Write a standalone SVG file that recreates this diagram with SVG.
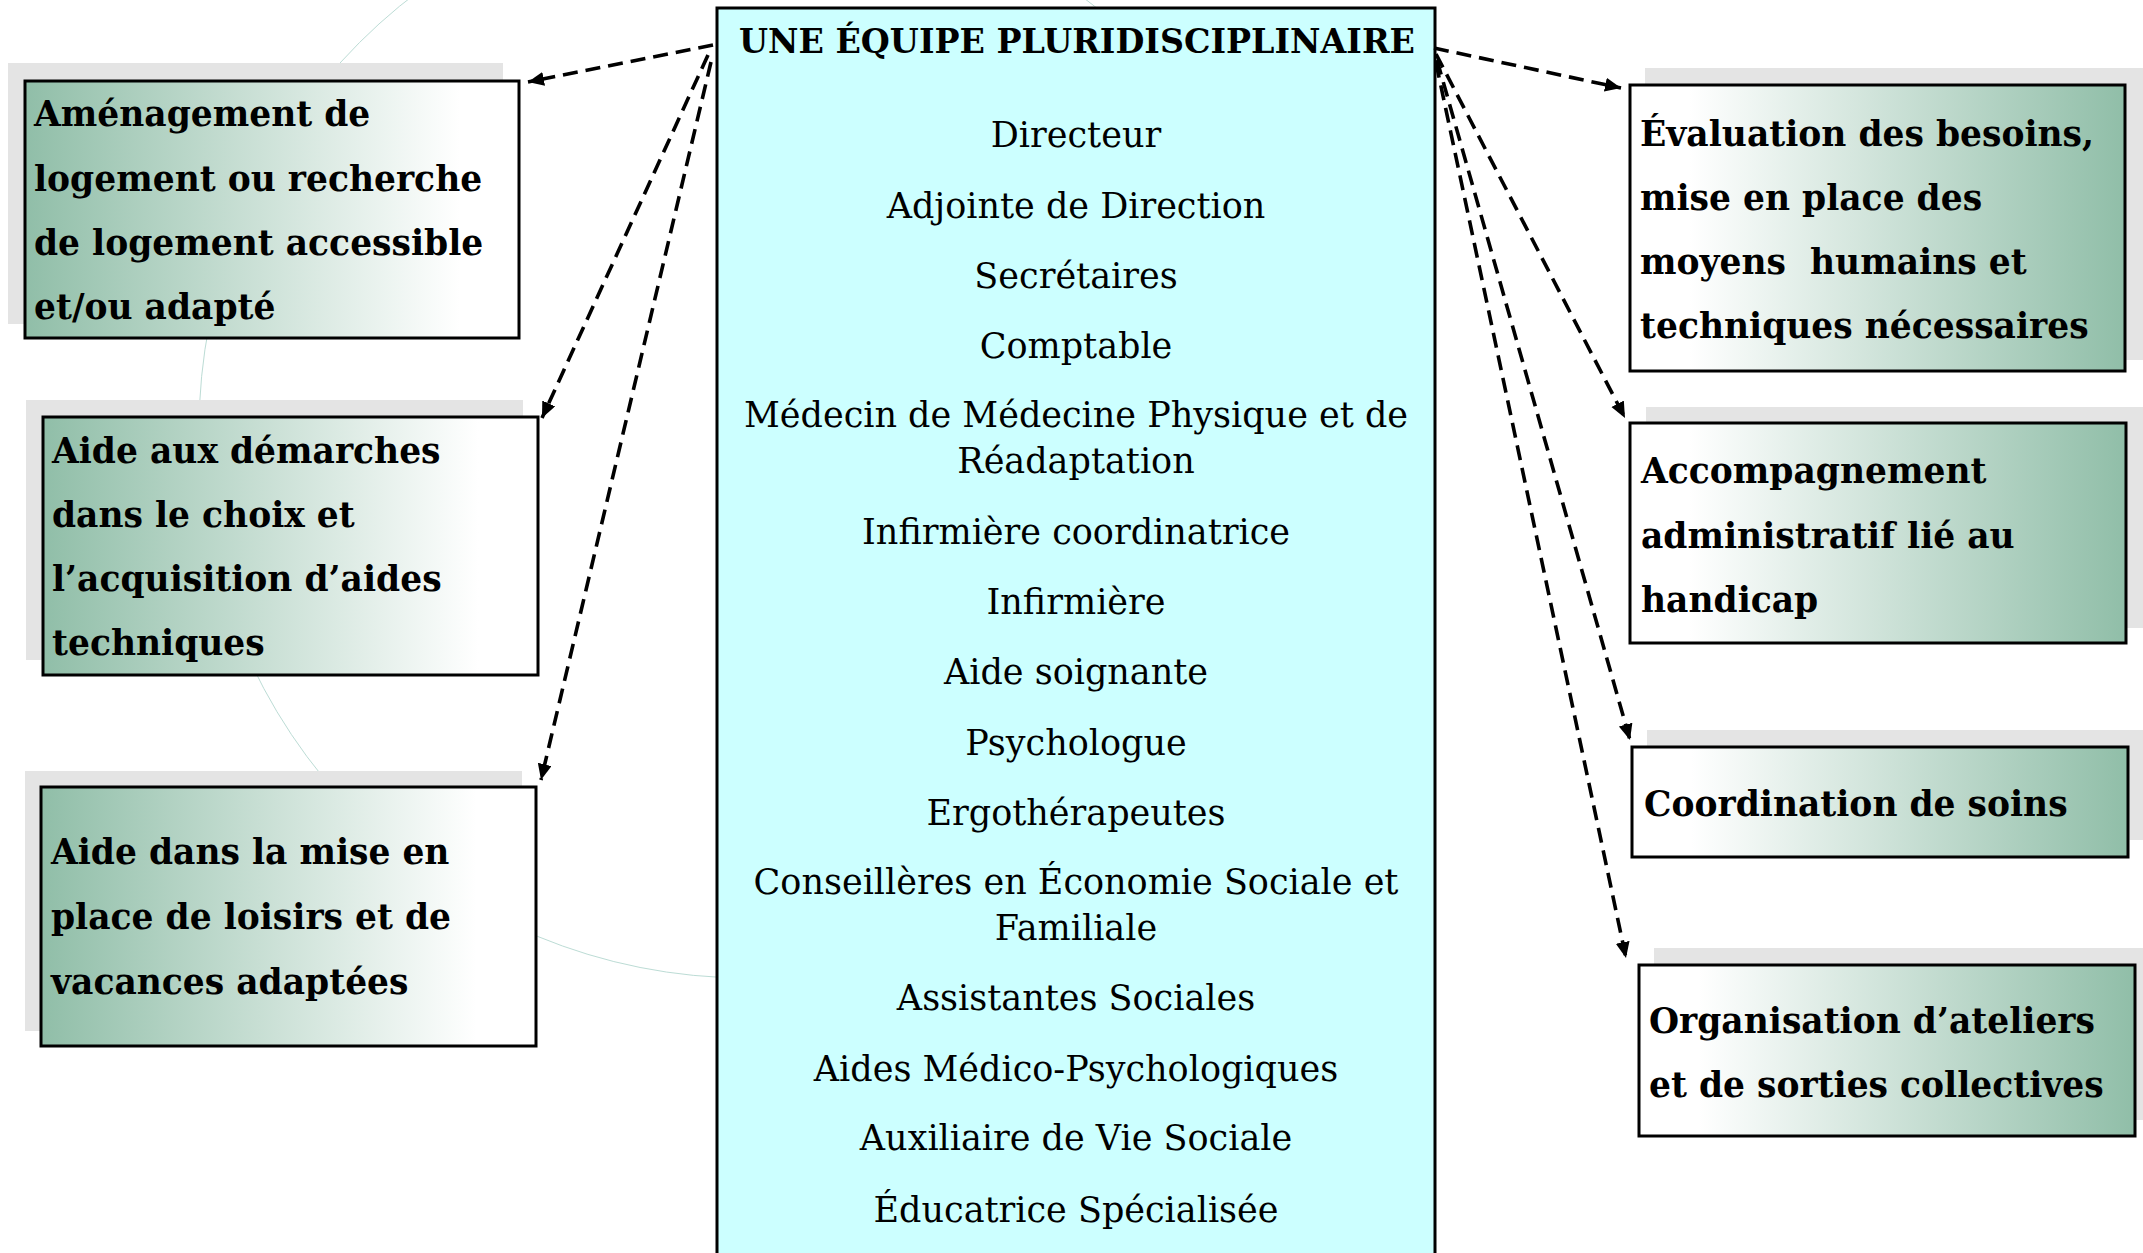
<svg xmlns="http://www.w3.org/2000/svg" width="2143" height="1253" viewBox="0 0 2143 1253">
<defs>
<linearGradient id="gL" x1="0" y1="0" x2="1" y2="0">
<stop offset="0" stop-color="#90bea8"/>
<stop offset="0.88" stop-color="#ffffff"/>
</linearGradient>
<linearGradient id="gR" x1="0" y1="0" x2="1" y2="0">
<stop offset="0.12" stop-color="#ffffff"/>
<stop offset="1" stop-color="#90bea8"/>
</linearGradient>
<marker id="ah" markerUnits="userSpaceOnUse" markerWidth="18" markerHeight="16" refX="16" refY="7" orient="auto">
<path d="M0,0 L16,7 L0,14 z" fill="#000"/>
</marker>
<style>
.shadow{fill:#e4e4e4}
.bl{fill:url(#gL);stroke:#000;stroke-width:3}
.br{fill:url(#gR);stroke:#000;stroke-width:3}
.bt{font-family:"DejaVu Serif","Liberation Serif",serif;font-weight:bold;font-size:34.5px;fill:#000}
.ct{font-family:"DejaVu Serif","Liberation Serif",serif;font-size:35px;fill:#000;text-anchor:middle}
.title{font-family:"DejaVu Serif","Liberation Serif",serif;font-weight:bold;font-size:33px;fill:#000;text-anchor:middle}
.con{fill:none;stroke:#000;stroke-width:3.6;stroke-dasharray:15 8;marker-end:url(#ah)}
.arc{fill:none;stroke:#bcdcd5;stroke-width:1}
</style>
</defs>
<rect width="2143" height="1253" fill="#fff"/>
<circle class="arc" cx="747" cy="430" r="548"/>

<g id="center">
<rect x="717" y="8" width="718" height="1260" fill="#ccffff" stroke="#000" stroke-width="3"/>
<text class="title" x="1077" y="53" textLength="676" lengthAdjust="spacingAndGlyphs">UNE ÉQUIPE PLURIDISCIPLINAIRE</text>
<text class="ct" x="1076" y="147">Directeur</text>
<text class="ct" x="1076" y="218">Adjointe de Direction</text>
<text class="ct" x="1076" y="288">Secrétaires</text>
<text class="ct" x="1076" y="358">Comptable</text>
<text class="ct" x="1076" y="427">Médecin de Médecine Physique et de</text>
<text class="ct" x="1076" y="473">Réadaptation</text>
<text class="ct" x="1076" y="544">Infirmière coordinatrice</text>
<text class="ct" x="1076" y="614">Infirmière</text>
<text class="ct" x="1076" y="684">Aide soignante</text>
<text class="ct" x="1076" y="755">Psychologue</text>
<text class="ct" x="1076" y="825">Ergothérapeutes</text>
<text class="ct" x="1076" y="894">Conseillères en Économie Sociale et</text>
<text class="ct" x="1076" y="940">Familiale</text>
<text class="ct" x="1076" y="1010">Assistantes Sociales</text>
<text class="ct" x="1076" y="1081">Aides Médico-Psychologiques</text>
<text class="ct" x="1076" y="1150">Auxiliaire de Vie Sociale</text>
<text class="ct" x="1076" y="1222">Éducatrice Spécialisée</text>
</g>

<g id="box1">
<rect class="shadow" x="8" y="63" width="495" height="261"/>
<rect class="bl" x="25" y="81" width="494" height="257"/>
<text class="bt" x="34" y="126">Aménagement de</text>
<text class="bt" x="34" y="191">logement ou recherche</text>
<text class="bt" x="34" y="255">de logement accessible</text>
<text class="bt" x="34" y="319">et/ou adapté</text>
</g>

<g id="box2">
<rect class="shadow" x="26" y="400" width="497" height="260"/>
<rect class="bl" x="43" y="417" width="495" height="258"/>
<text class="bt" x="52" y="463">Aide aux démarches</text>
<text class="bt" x="52" y="527">dans le choix et</text>
<text class="bt" x="52" y="591">l’acquisition d’aides</text>
<text class="bt" x="52" y="655">techniques</text>
</g>

<g id="box3">
<rect class="shadow" x="25" y="771" width="497" height="260"/>
<rect class="bl" x="41" y="787" width="495" height="259"/>
<text class="bt" x="51" y="864">Aide dans la mise en</text>
<text class="bt" x="51" y="929">place de loisirs et de</text>
<text class="bt" x="51" y="994">vacances adaptées</text>
</g>

<g id="box4">
<rect class="shadow" x="1645" y="68" width="498" height="292"/>
<rect class="br" x="1630" y="85" width="495" height="286"/>
<text class="bt" x="1640" y="146">Évaluation des besoins,</text>
<text class="bt" x="1640" y="210">mise en place des</text>
<text class="bt" x="1640" y="274" xml:space="preserve">moyens  humains et</text>
<text class="bt" x="1640" y="338">techniques nécessaires</text>
</g>

<g id="box5">
<rect class="shadow" x="1646" y="407" width="497" height="221"/>
<rect class="br" x="1630" y="423" width="496" height="220"/>
<text class="bt" x="1641" y="483">Accompagnement</text>
<text class="bt" x="1641" y="548">administratif lié au</text>
<text class="bt" x="1641" y="612">handicap</text>
</g>

<g id="box6">
<rect class="shadow" x="1647" y="730" width="496" height="110"/>
<rect class="br" x="1632" y="747" width="496" height="110"/>
<text class="bt" x="1644" y="816">Coordination de soins</text>
</g>

<g id="box7">
<rect class="shadow" x="1654" y="948" width="489" height="172"/>
<rect class="br" x="1639" y="965" width="496" height="171"/>
<text class="bt" x="1649" y="1033">Organisation d’ateliers</text>
<text class="bt" x="1649" y="1097">et de sorties collectives</text>
</g>

<g id="connectors">
<line class="con" x1="713" y1="45" x2="528" y2="82"/>
<line class="con" x1="708" y1="55" x2="542" y2="418"/>
<line class="con" x1="711" y1="62" x2="541" y2="780"/>
<line class="con" x1="1434" y1="48" x2="1621" y2="88"/>
<line class="con" x1="1436" y1="54" x2="1625" y2="418"/>
<line class="con" x1="1437" y1="60" x2="1630" y2="740"/>
<line class="con" x1="1436" y1="63" x2="1626" y2="958"/>
</g>
</svg>
